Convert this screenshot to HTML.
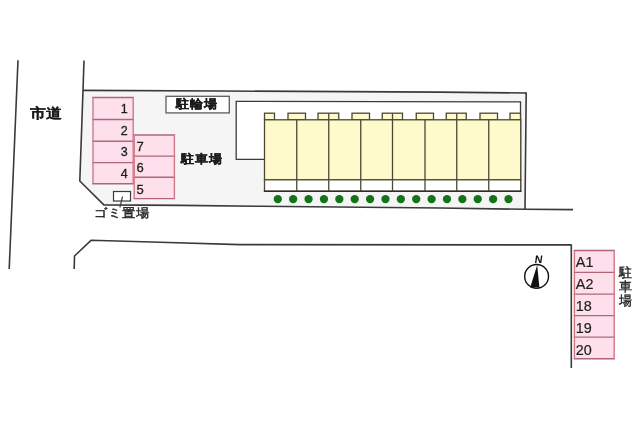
<!DOCTYPE html>
<html><head><meta charset="utf-8"><style>
html,body{margin:0;padding:0;background:#fff;}
#w{position:relative;width:640px;height:427px;overflow:hidden;font-family:"Liberation Sans",sans-serif;filter:blur(0.3px);}
svg{position:absolute;left:0;top:0;}
</style></head><body><div id="w">
<svg width="640" height="427" viewBox="0 0 640 427">
<rect x="0" y="0" width="640" height="427" fill="#ffffff"/>
<polyline points="18,60.2 9.2,269" fill="none" stroke="#3a3a3a" stroke-width="1.6"/>
<polygon points="83,90.4 220,91 300,91.4 440,92.1 526.2,93 525,209 440,208 260,206.25 180,205.4 103.8,204.9 79.8,181" fill="#f5f5f5" stroke="none"/>
<polyline points="84,60.5 83,90.4 79.8,181 103.8,204.9 180,205.4 260,206.25 440,208 525,209.3 573,209.6" fill="none" stroke="#3a3a3a" stroke-width="1.6" stroke-linejoin="round"/>
<polyline points="83,90.4 220,91 300,91.4 440,92.1 526.2,93 525,209.3" fill="none" stroke="#3a3a3a" stroke-width="1.6"/>
<polyline points="74.2,269 74.5,256 91,240.3 160,242.2 240,244.6 571.3,244.9 571.3,368" fill="none" stroke="#3a3a3a" stroke-width="1.6" stroke-linejoin="round"/>
<polygon points="236.2,101.3 520.5,101.8 520.5,159.3 236.2,159.3" fill="#ffffff"/>
<polyline points="264.5,159.3 236.2,159.3 236.2,101.3 520.5,101.8 520.5,191" fill="none" stroke="#3a3a3a" stroke-width="1.3"/>
<rect x="264.5" y="113.2" width="10.00" height="6.60" fill="#fefacb" stroke="#4c4834" stroke-width="1.3"/>
<rect x="288" y="113.2" width="17.50" height="6.60" fill="#fefacb" stroke="#4c4834" stroke-width="1.3"/>
<rect x="318" y="113.2" width="20.75" height="6.60" fill="#fefacb" stroke="#4c4834" stroke-width="1.3"/>
<rect x="352" y="113.2" width="17.50" height="6.60" fill="#fefacb" stroke="#4c4834" stroke-width="1.3"/>
<rect x="382.25" y="113.2" width="20.25" height="6.60" fill="#fefacb" stroke="#4c4834" stroke-width="1.3"/>
<rect x="416.25" y="113.2" width="17.25" height="6.60" fill="#fefacb" stroke="#4c4834" stroke-width="1.3"/>
<rect x="446.25" y="113.2" width="20.00" height="6.60" fill="#fefacb" stroke="#4c4834" stroke-width="1.3"/>
<rect x="480" y="113.2" width="17.50" height="6.60" fill="#fefacb" stroke="#4c4834" stroke-width="1.3"/>
<rect x="510" y="113.2" width="10.50" height="6.60" fill="#fefacb" stroke="#4c4834" stroke-width="1.3"/>
<rect x="264.5" y="119.8" width="256.25" height="60.00" fill="#fefacb" stroke="#4c4834" stroke-width="1.3"/>
<rect x="264.5" y="179.8" width="256.25" height="11.50" fill="#ffffff" stroke="#4c4834" stroke-width="1.3"/>
<line x1="263.9" y1="191.3" x2="521.35" y2="191.3" stroke="#2c2c2c" stroke-width="1.4"/>
<line x1="296.75" y1="119.8" x2="296.75" y2="191.3" stroke="#4c4834" stroke-width="1.3"/>
<line x1="328.75" y1="113.2" x2="328.75" y2="191.3" stroke="#4c4834" stroke-width="1.3"/>
<line x1="360.75" y1="119.8" x2="360.75" y2="191.3" stroke="#4c4834" stroke-width="1.3"/>
<line x1="392.5" y1="113.2" x2="392.5" y2="191.3" stroke="#4c4834" stroke-width="1.3"/>
<line x1="425" y1="119.8" x2="425" y2="191.3" stroke="#4c4834" stroke-width="1.3"/>
<line x1="456.75" y1="113.2" x2="456.75" y2="191.3" stroke="#4c4834" stroke-width="1.3"/>
<line x1="488.75" y1="119.8" x2="488.75" y2="191.3" stroke="#4c4834" stroke-width="1.3"/>
<circle cx="277.80" cy="199.1" r="4.15" fill="#137317"/>
<circle cx="293.18" cy="199.1" r="4.15" fill="#137317"/>
<circle cx="308.56" cy="199.1" r="4.15" fill="#137317"/>
<circle cx="323.94" cy="199.1" r="4.15" fill="#137317"/>
<circle cx="339.32" cy="199.1" r="4.15" fill="#137317"/>
<circle cx="354.70" cy="199.1" r="4.15" fill="#137317"/>
<circle cx="370.08" cy="199.1" r="4.15" fill="#137317"/>
<circle cx="385.46" cy="199.1" r="4.15" fill="#137317"/>
<circle cx="400.84" cy="199.1" r="4.15" fill="#137317"/>
<circle cx="416.22" cy="199.1" r="4.15" fill="#137317"/>
<circle cx="431.60" cy="199.1" r="4.15" fill="#137317"/>
<circle cx="446.98" cy="199.1" r="4.15" fill="#137317"/>
<circle cx="462.36" cy="199.1" r="4.15" fill="#137317"/>
<circle cx="477.74" cy="199.1" r="4.15" fill="#137317"/>
<circle cx="493.12" cy="199.1" r="4.15" fill="#137317"/>
<circle cx="508.50" cy="199.1" r="4.15" fill="#137317"/>
<rect x="93" y="97.5" width="40.20" height="86.20" fill="#fde0ec"/>
<line x1="92.3" y1="97.5" x2="133.89999999999998" y2="97.5" stroke="#b06676" stroke-width="1.4"/>
<line x1="92.3" y1="119.5" x2="133.89999999999998" y2="119.5" stroke="#b06676" stroke-width="1.4"/>
<line x1="92.3" y1="141.2" x2="133.89999999999998" y2="141.2" stroke="#b06676" stroke-width="1.4"/>
<line x1="92.3" y1="162.6" x2="133.89999999999998" y2="162.6" stroke="#b06676" stroke-width="1.4"/>
<line x1="92.3" y1="183.7" x2="133.89999999999998" y2="183.7" stroke="#b06676" stroke-width="1.4"/>
<line x1="93" y1="97.5" x2="93" y2="183.7" stroke="#d07886" stroke-width="1.4"/>
<line x1="133.2" y1="97.5" x2="133.2" y2="183.7" stroke="#d07886" stroke-width="1.4"/>
<rect x="134.2" y="135" width="40.20" height="63.60" fill="#fde0ec"/>
<line x1="133.5" y1="135" x2="175.1" y2="135" stroke="#b06676" stroke-width="1.4"/>
<line x1="133.5" y1="156.1" x2="175.1" y2="156.1" stroke="#b06676" stroke-width="1.4"/>
<line x1="133.5" y1="177.2" x2="175.1" y2="177.2" stroke="#b06676" stroke-width="1.4"/>
<line x1="133.5" y1="198.6" x2="175.1" y2="198.6" stroke="#b06676" stroke-width="1.4"/>
<line x1="134.2" y1="135" x2="134.2" y2="198.6" stroke="#d57888" stroke-width="1.4"/>
<line x1="174.4" y1="135" x2="174.4" y2="198.6" stroke="#d07886" stroke-width="1.4"/>
<rect x="113.5" y="191.5" width="17" height="9.5" fill="#ffffff" stroke="#3a3a3a" stroke-width="1.2"/>
<line x1="122.5" y1="196.5" x2="119.9" y2="207.5" stroke="#3a3a3a" stroke-width="1.1"/>
<rect x="166" y="96.3" width="63.3" height="16.6" fill="#ffffff" stroke="#5c5c5c" stroke-width="1.3"/>
<rect x="574.4" y="250.5" width="39.80" height="108.20" fill="#fde0ec"/>
<line x1="573.6999999999999" y1="250.5" x2="614.9000000000001" y2="250.5" stroke="#b06676" stroke-width="1.4"/>
<line x1="573.6999999999999" y1="272.4" x2="614.9000000000001" y2="272.4" stroke="#b06676" stroke-width="1.4"/>
<line x1="573.6999999999999" y1="294.1" x2="614.9000000000001" y2="294.1" stroke="#b06676" stroke-width="1.4"/>
<line x1="573.6999999999999" y1="315.6" x2="614.9000000000001" y2="315.6" stroke="#b06676" stroke-width="1.4"/>
<line x1="573.6999999999999" y1="337.1" x2="614.9000000000001" y2="337.1" stroke="#b06676" stroke-width="1.4"/>
<line x1="573.6999999999999" y1="358.7" x2="614.9000000000001" y2="358.7" stroke="#b06676" stroke-width="1.4"/>
<line x1="574.4" y1="250.5" x2="574.4" y2="358.7" stroke="#d07886" stroke-width="1.4"/>
<line x1="614.2" y1="250.5" x2="614.2" y2="358.7" stroke="#d07886" stroke-width="1.4"/>
<circle cx="536.6" cy="276.4" r="11.9" fill="#ffffff" stroke="#111" stroke-width="1.4"/>
<polygon points="537.2,265 530.2,287.4 534.5,287.2 539.4,287.4" fill="#111"/>
</svg>
<div style="position:absolute;left:120.8px;top:102.9px;font-size:12.5px;font-weight:normal;color:#1e1e1e;line-height:1;white-space:nowrap;-webkit-text-stroke:0.3px #1e1e1e;">1</div><div style="position:absolute;left:120.8px;top:124.52000000000001px;font-size:12.5px;font-weight:normal;color:#1e1e1e;line-height:1;white-space:nowrap;-webkit-text-stroke:0.3px #1e1e1e;">2</div><div style="position:absolute;left:120.8px;top:146.14000000000001px;font-size:12.5px;font-weight:normal;color:#1e1e1e;line-height:1;white-space:nowrap;-webkit-text-stroke:0.3px #1e1e1e;">3</div><div style="position:absolute;left:120.8px;top:167.76px;font-size:12.5px;font-weight:normal;color:#1e1e1e;line-height:1;white-space:nowrap;-webkit-text-stroke:0.3px #1e1e1e;">4</div><div style="position:absolute;left:136.4px;top:140.3px;font-size:13px;font-weight:normal;color:#1e1e1e;line-height:1;white-space:nowrap;-webkit-text-stroke:0.3px #1e1e1e;">7</div><div style="position:absolute;left:136.4px;top:161.45000000000002px;font-size:13px;font-weight:normal;color:#1e1e1e;line-height:1;white-space:nowrap;-webkit-text-stroke:0.3px #1e1e1e;">6</div><div style="position:absolute;left:136.4px;top:182.60000000000002px;font-size:13px;font-weight:normal;color:#1e1e1e;line-height:1;white-space:nowrap;-webkit-text-stroke:0.3px #1e1e1e;">5</div><div style="position:absolute;left:575.8px;top:255.2px;font-size:14.4px;font-weight:normal;color:#1e1e1e;line-height:1;white-space:nowrap;-webkit-text-stroke:0.2px #1e1e1e;">A1</div><div style="position:absolute;left:575.8px;top:277.2px;font-size:14.4px;font-weight:normal;color:#1e1e1e;line-height:1;white-space:nowrap;-webkit-text-stroke:0.2px #1e1e1e;">A2</div><div style="position:absolute;left:575.8px;top:299.2px;font-size:14.4px;font-weight:normal;color:#1e1e1e;line-height:1;white-space:nowrap;-webkit-text-stroke:0.2px #1e1e1e;">18</div><div style="position:absolute;left:575.8px;top:321.2px;font-size:14.4px;font-weight:normal;color:#1e1e1e;line-height:1;white-space:nowrap;-webkit-text-stroke:0.2px #1e1e1e;">19</div><div style="position:absolute;left:575.8px;top:343.2px;font-size:14.4px;font-weight:normal;color:#1e1e1e;line-height:1;white-space:nowrap;-webkit-text-stroke:0.2px #1e1e1e;">20</div><div style="position:absolute;left:30px;top:107.2px;font-size:15.5px;font-weight:bold;color:#1a1a1a;line-height:1;white-space:nowrap;-webkit-text-stroke:0.1px #1a1a1a;transform:scaleY(0.88);transform-origin:0 0;">市道</div><div style="position:absolute;left:176px;top:98.1px;font-size:13.5px;font-weight:bold;color:#1a1a1a;line-height:1;white-space:nowrap;-webkit-text-stroke:0.25px #1a1a1a;transform:scaleY(0.92);transform-origin:0 0;">駐輪場</div><div style="position:absolute;left:181px;top:153.3px;font-size:13.5px;font-weight:bold;color:#1a1a1a;line-height:1;white-space:nowrap;-webkit-text-stroke:0.25px #1a1a1a;transform:scaleY(0.92);transform-origin:0 0;">駐車場</div><div style="position:absolute;left:94px;top:206.6px;font-size:13.6px;font-weight:normal;color:#2a2a2a;line-height:1;white-space:nowrap;-webkit-text-stroke:0.45px #222;letter-spacing:0px;transform:scaleY(0.9);transform-origin:0 0;">ゴミ置場</div><div style="position:absolute;left:618.8px;top:265.5px;font-size:13px;font-weight:normal;color:#2a2a2a;line-height:1;white-space:nowrap;line-height:14px;-webkit-text-stroke:0.4px #222;">駐<br>車<br>場</div><div style="position:absolute;left:533.9px;top:254.4px;font-size:10.8px;font-weight:bold;color:#111;line-height:1;white-space:nowrap;transform:skewX(-8deg);transform-origin:0 100%;">N</div>
</div></body></html>
